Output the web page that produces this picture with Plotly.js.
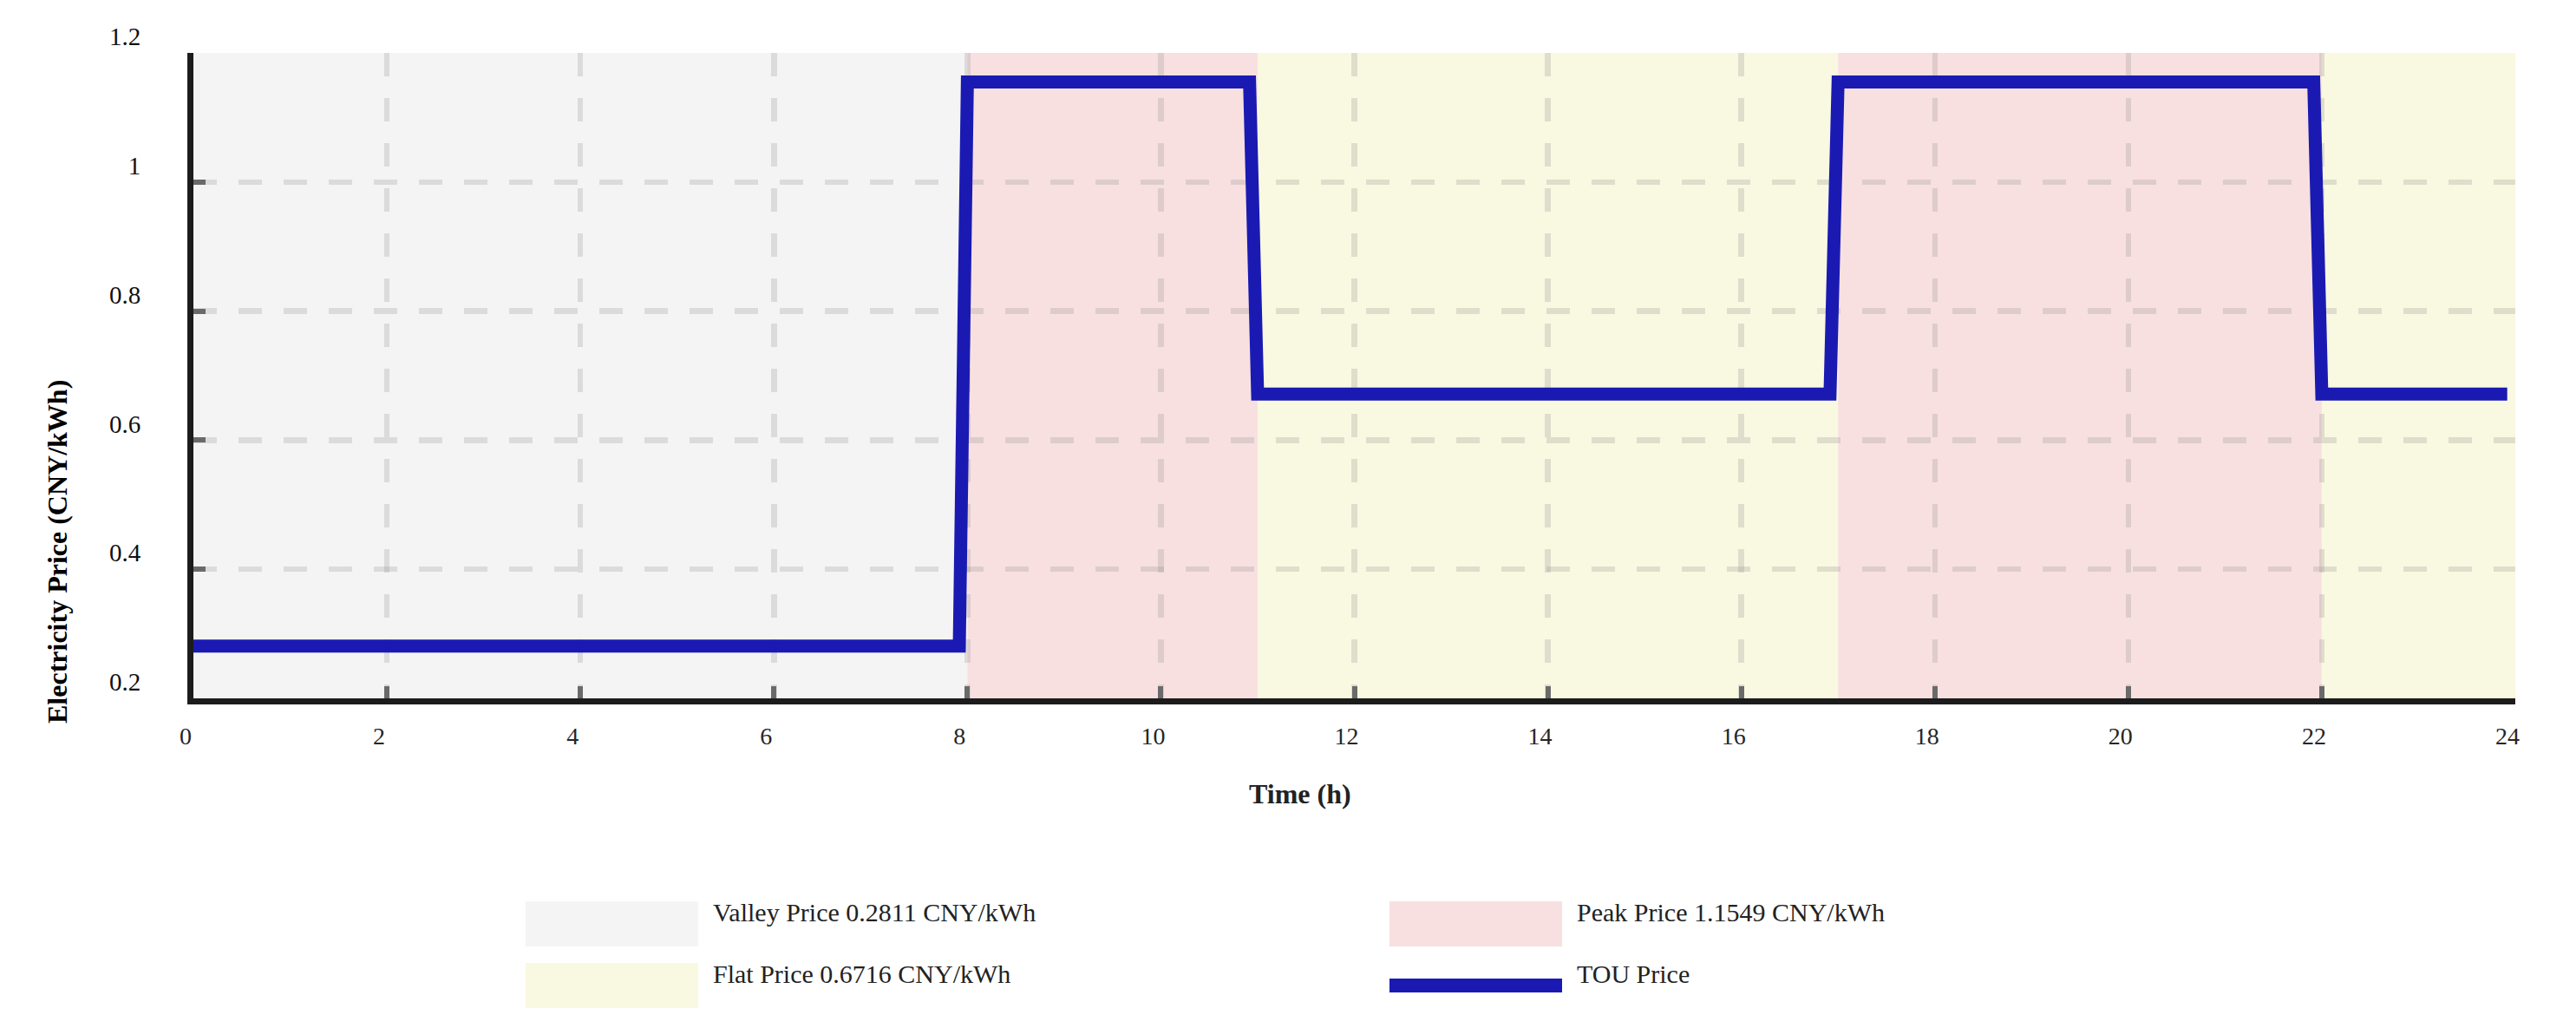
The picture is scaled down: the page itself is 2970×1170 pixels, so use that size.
<!DOCTYPE html>
<html>
<head>
<meta charset="utf-8">
<script src="https://cdn.plot.ly/plotly-3.0.1.min.js"></script>
<style>html,body{margin:0;padding:0;background:#ffffff;}</style>
</head>
<body>
<div id="chart" style="width:2970px;height:1170px;"></div>
<script>
// ---------------- DATA ----------------
const priceLevels = ['Valley', 'Peak', 'Flat'];
const priceValues = [0.2811, 1.1549, 0.6716];           // CNY/kWh

const periodStart = [0, 8, 11, 17, 22];                 // h
const periodEnd   = [8, 11, 17, 22, 24];                // h
const periodLevel = ['Valley', 'Peak', 'Flat', 'Peak', 'Flat'];

const timeH    = [0, 7.9167, 8, 10.9167, 11, 16.9167, 17, 21.9167, 22, 23.9167];
const touPrice = [0.2811, 0.2811, 1.1549, 1.1549, 0.6716, 0.6716, 1.1549, 1.1549, 0.6716, 0.6716];

const xTickVals = [0, 2, 4, 6, 8, 10, 12, 14, 16, 18, 20, 22, 24];
const xTickText = ['0', '2', '4', '6', '8', '10', '12', '14', '16', '18', '20', '22', '24'];
const yTickVals = [0.2, 0.4, 0.6, 0.8, 1, 1.2];
const yTickText = ['0.2', '0.4', '0.6', '0.8', '1', '1.2'];

const xTitle = 'Time (h)';
const yTitle = 'Electricity Price (CNY/kWh)';
const lineName = 'TOU Price';

// ---------------- STYLE ----------------
const W = 2970, H = 1170;
const M = {l: 223, r: 70, t: 61, b: 365};
const plotW = W - M.l - M.r, plotH = H - M.t - M.b;
const FONT = 'Liberation Serif, Times New Roman, serif';
const bandColor = {Valley: '#f4f4f4', Peak: '#f8e0e0', Flat: '#f9f8e1'};
const lineColor = '#1a1ab3';
const gridColor = 'rgba(130,130,130,0.22)';

const px = x => (x - M.l) / plotW;          // pixel -> paper x
const py = y => (H - M.b - y) / plotH;      // pixel -> paper y

// ---------------- BANDS ----------------
const shapes = periodStart.map((s, i) => ({
  type: 'rect', xref: 'x', yref: 'y domain',
  x0: s, x1: periodEnd[i], y0: 0, y1: 1,
  fillcolor: bandColor[periodLevel[i]], line: {width: 0}, layer: 'below'
}));

// ---------------- LEGEND (custom, 2 columns) ----------------
const priceOf = lvl => priceValues[priceLevels.indexOf(lvl)];
const legendItems = [
  {label: `Valley Price ${priceOf('Valley').toFixed(4)} CNY/kWh`, kind: 'Valley', col: 0, row: 0},
  {label: `Peak Price ${priceOf('Peak').toFixed(4)} CNY/kWh`, kind: 'Peak', col: 1, row: 0},
  {label: `Flat Price ${priceOf('Flat').toFixed(4)} CNY/kWh`, kind: 'Flat', col: 0, row: 1},
  {label: lineName, kind: 'line', col: 1, row: 1}
];
const colX = [606, 1602], rowY = [1039, 1110], swW = 199, swH = 52, textGap = 214;
const annotations = [];
legendItems.forEach(it => {
  const x0 = colX[it.col], y0 = rowY[it.row];
  if (it.kind === 'line') {
    shapes.push({type: 'line', xref: 'paper', yref: 'paper',
      x0: px(x0), x1: px(x0 + swW), y0: py(y0 + 26), y1: py(y0 + 26),
      line: {color: lineColor, width: 16}});
  } else {
    shapes.push({type: 'rect', xref: 'paper', yref: 'paper',
      x0: px(x0), x1: px(x0 + swW), y0: py(y0 + swH), y1: py(y0),
      fillcolor: bandColor[it.kind], line: {width: 0}});
  }
  annotations.push({xref: 'paper', yref: 'paper', x: px(x0 + textGap), y: py(y0 + 12),
    xanchor: 'left', yanchor: 'middle', showarrow: false, text: it.label,
    font: {family: FONT, size: 30, color: '#222222'}});
});

// axis titles placed as in the reference
annotations.push({xref: 'paper', yref: 'paper', x: px(1499), y: py(915),
  xanchor: 'center', yanchor: 'middle', showarrow: false,
  text: '<b>' + xTitle + '</b>', font: {family: FONT, size: 32, color: '#222222'}});
annotations.push({xref: 'paper', yref: 'paper', x: px(66), y: py(636),
  xanchor: 'center', yanchor: 'middle', showarrow: false, textangle: -90,
  text: '<b>' + yTitle + '</b>', font: {family: FONT, size: 32, color: '#000000'}});

// ---------------- TRACE ----------------
const traces = [{
  type: 'scatter', mode: 'lines', name: lineName,
  x: timeH, y: touPrice,
  line: {color: lineColor, width: 15},
  showlegend: false, cliponaxis: false
}];

const axisCommon = {
  showline: true, linewidth: 7, linecolor: '#1c1c1c', mirror: false,
  ticks: 'inside', ticklen: 14, tickwidth: 6, tickcolor: '#6a6a6a',
  showgrid: true, gridcolor: gridColor, gridwidth: 6.5, griddash: '27px,25px',
  zeroline: false, fixedrange: true
};

const layout = {
  width: W, height: H,
  margin: M,
  paper_bgcolor: '#ffffff', plot_bgcolor: '#ffffff',
  showlegend: false,
  font: {family: FONT, color: '#222222'},
  xaxis: Object.assign({}, axisCommon, {
    range: [0, 24], tickmode: 'array', tickvals: xTickVals, ticktext: xTickText,
    tickfont: {family: FONT, size: 28, color: '#262626'},
    ticklabelshift: -9, ticklabelstandoff: 12
  }),
  yaxis: Object.assign({}, axisCommon, {
    range: [0.2, 1.2], tickmode: 'array', tickvals: yTickVals, ticktext: yTickText,
    tickfont: {family: FONT, size: 29, color: '#111111'},
    ticklabelshift: -19, ticklabelstandoff: 48
  }),
  shapes: shapes,
  annotations: annotations
};

Plotly.newPlot('chart', traces, layout, {displayModeBar: false, staticPlot: true});
</script>
</body>
</html>
